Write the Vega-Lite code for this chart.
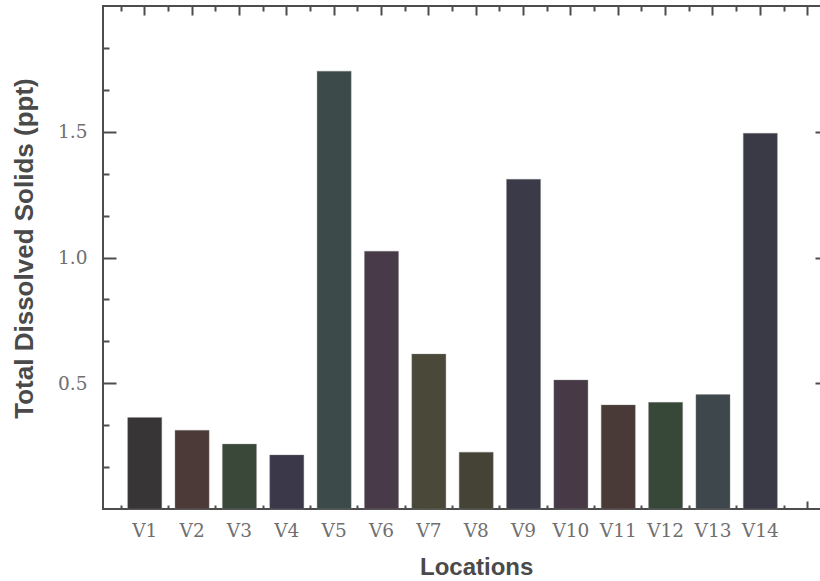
{
  "$schema": "https://vega.github.io/schema/vega-lite/v6.json",
  "width": 719,
  "height": 503,
  "autosize": "none",
  "padding": {"left": 103, "top": 6, "right": 0, "bottom": 72},
  "background": "white",
  "config": {
    "view": {"stroke": "#4d4d4d", "strokeWidth": 2},
    "axis": {"tickColor": "#4d4d4d", "tickWidth": 2, "grid": false, "domain": false}
  },
  "data": {
    "values": [
      {"Location": "V1", "TDS": 0.364},
      {"Location": "V2", "TDS": 0.313},
      {"Location": "V3", "TDS": 0.258},
      {"Location": "V4", "TDS": 0.215},
      {"Location": "V5", "TDS": 1.741},
      {"Location": "V6", "TDS": 1.025},
      {"Location": "V7", "TDS": 0.616},
      {"Location": "V8", "TDS": 0.226},
      {"Location": "V9", "TDS": 1.311},
      {"Location": "V10", "TDS": 0.513},
      {"Location": "V11", "TDS": 0.414},
      {"Location": "V12", "TDS": 0.424},
      {"Location": "V13", "TDS": 0.455},
      {"Location": "V14", "TDS": 1.494}
    ]
  },
  "layer": [
    {
      "mark": {"type": "bar", "stroke": "#8a8a8a", "strokeWidth": 0.6, "strokeOpacity": 0.6},
      "encoding": {
        "x": {
          "field": "Location", "type": "nominal", "sort": null,
          "scale": {
            "domain": ["V1","V2","V3","V4","V5","V6","V7","V8","V9","V10","V11","V12","V13","V14",""],
            "range": [1, 745.4], "paddingInner": 0.28, "paddingOuter": 0.5
          },
          "axis": {
            "orient": "bottom", "values": ["V1","V2","V3","V4","V5","V6","V7","V8","V9","V10","V11","V12","V13","V14"],
            "ticks": false, "labelAngle": 0,
            "labelFont": "DejaVu Serif", "labelFontSize": 18.5, "labelColor": "#6f6f6f", "labelPadding": 12,
            "title": "Locations", "titleFont": "Liberation Sans", "titleFontSize": 24, "titleFontWeight": "bold",
            "titleColor": "#4a4a4a", "titlePadding": 16
          }
        },
        "y": {
          "field": "TDS", "type": "quantitative",
          "scale": {"domain": [0, 2], "nice": false},
          "axis": {
            "orient": "left", "values": [0.5, 1, 1.5], "format": ".1f", "ticks": false,
            "labelFont": "DejaVu Serif", "labelFontSize": 18.5, "labelColor": "#6f6f6f", "labelPadding": 16,
            "title": "Total Dissolved Solids (ppt)", "titleFont": "Liberation Sans", "titleFontSize": 26,
            "titleFontWeight": "bold", "titleColor": "#4a4a4a", "titlePadding": 20, "titleY": 242
          }
        },
        "color": {
          "field": "Location", "type": "nominal",
          "scale": {
            "domain": ["V1","V2","V3","V4","V5","V6","V7","V8","V9","V10","V11","V12","V13","V14"],
            "range": ["#373535","#4b3a37","#394839","#3a3849","#3c4a4a","#483a49","#4a4838","#454336","#3a3a48","#473a46","#4a3a37","#384838","#3e484c","#3a3a46"]
          },
          "legend": null
        }
      }
    },
    {
      "mark": {"type": "bar", "opacity": 0},
      "encoding": {
        "x": {"field": "Location", "type": "nominal", "sort": null,
          "axis": {"orient": "top", "labels": false, "tickSize": -9, "title": null}},
        "y": {"field": "TDS", "type": "quantitative",
          "axis": {"orient": "left", "values": [0.5, 1, 1.5], "labels": false, "tickSize": -13, "title": null}}
      }
    },
    {
      "mark": {"type": "bar", "opacity": 0},
      "encoding": {
        "x": {"field": "Location", "type": "nominal", "sort": null,
          "axis": {"orient": "top", "labels": false, "tickSize": -5, "bandPosition": -0.1944, "title": null}},
        "y": {"field": "TDS", "type": "quantitative",
          "axis": {"orient": "left", "values": [0.16667, 0.33333, 0.66667, 0.83333, 1.16667, 1.33333, 1.66667, 1.83333], "labels": false, "tickSize": -6, "title": null}}
      }
    },
    {
      "mark": {"type": "bar", "opacity": 0},
      "encoding": {
        "x": {"field": "Location", "type": "nominal", "sort": null,
          "axis": {"orient": "bottom", "labels": false, "tickSize": -4, "bandPosition": -0.1944, "title": null}},
        "y": {"field": "TDS", "type": "quantitative",
          "axis": {"orient": "right", "values": [0.5, 1, 1.5], "labels": false, "tickSize": -7, "title": null}}
      }
    },
    {
      "mark": {"type": "bar", "opacity": 0},
      "encoding": {
        "x": {"field": "Location", "type": "nominal", "sort": null,
          "axis": {"orient": "bottom", "labels": false, "tickSize": -8, "title": null}},
        "y": {"field": "TDS", "type": "quantitative", "axis": null}
      }
    }
  ],
  "resolve": {"axis": {"x": "independent", "y": "independent"}}
}
